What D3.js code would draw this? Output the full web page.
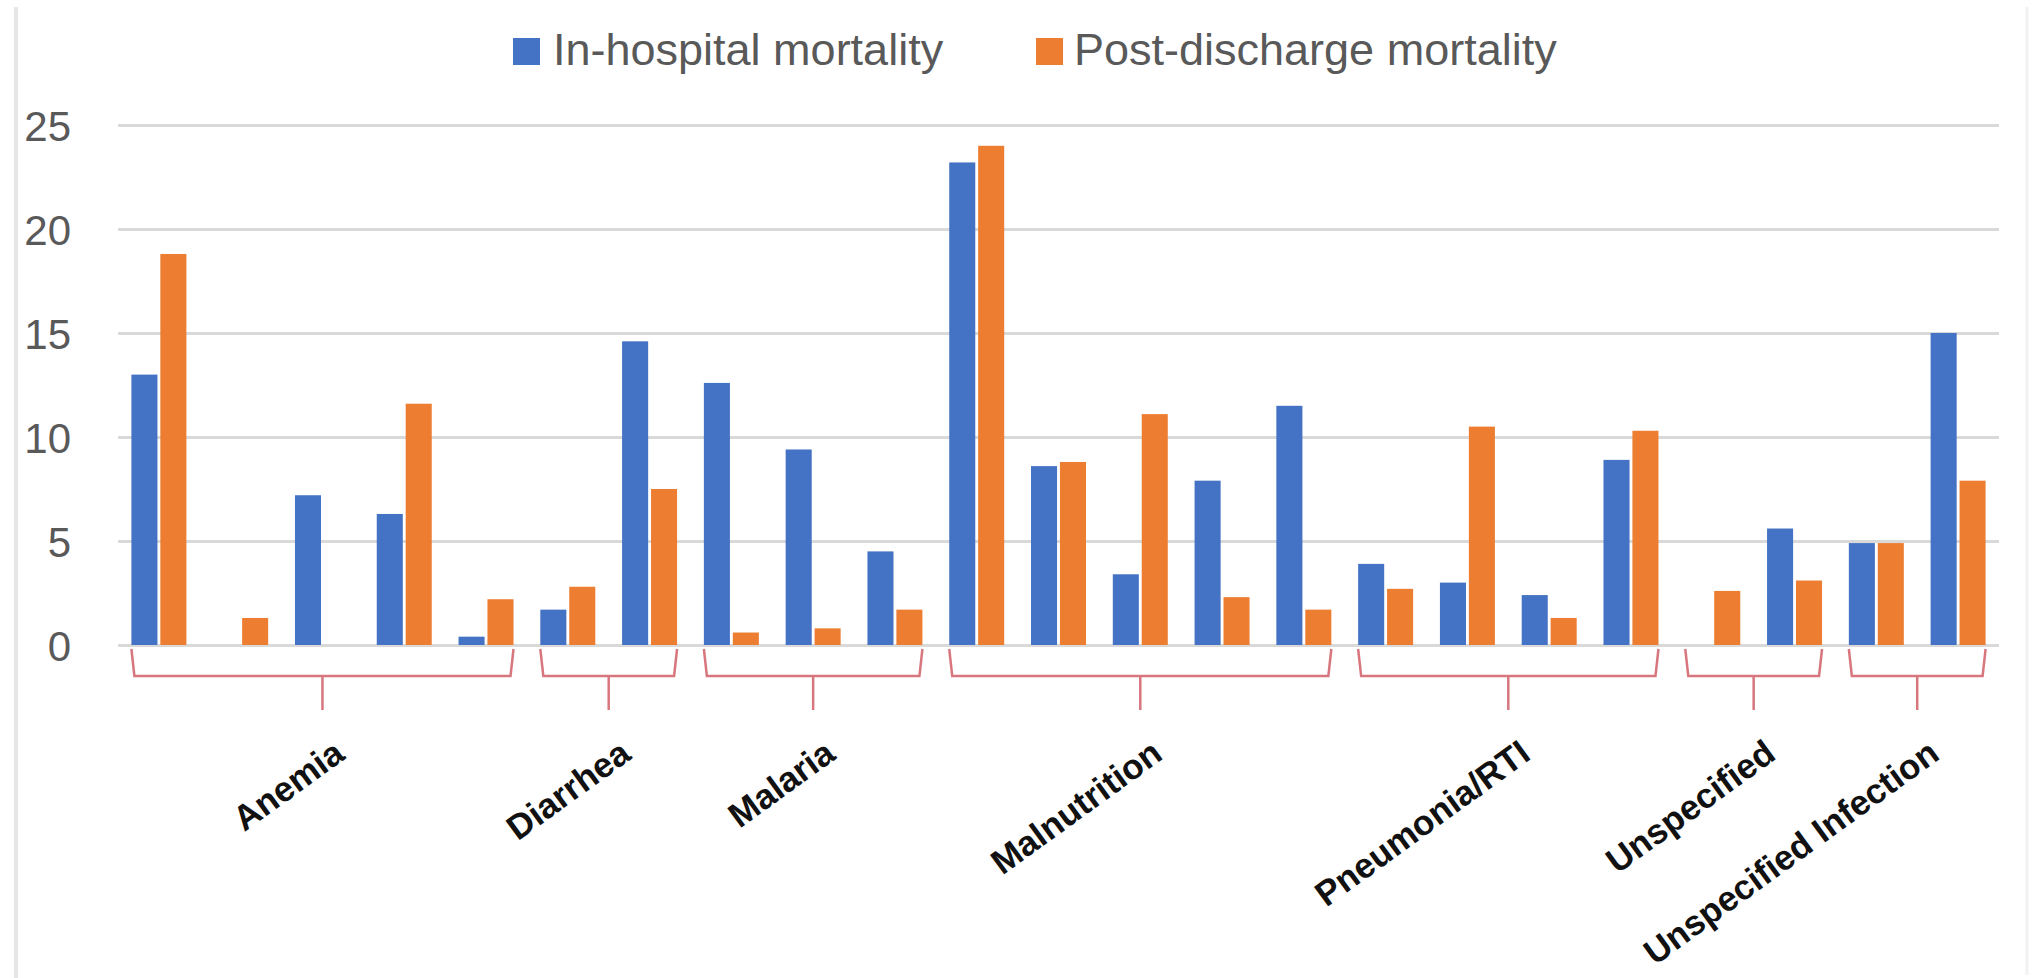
<!DOCTYPE html>
<html>
<head>
<meta charset="utf-8">
<script src="https://cdn.jsdelivr.net/npm/d3@7"></script>
<style>
  html, body { margin: 0; padding: 0; background: #fff; }
  svg { display: block; }
</style>
</head>
<body>
<svg id="chart" width="2033" height="978"></svg>
<script>
// Cause-of-death groups and how many sub-categories (bar pairs) each one holds
const groups = ["Anemia", "Diarrhea", "Malaria", "Malnutrition", "Pneumonia/RTI", "Unspecified", "Unspecified Infection"];
const groupSizes = [5, 2, 3, 5, 4, 2, 2];

// Series names and values (%), one value per sub-category, left to right
const seriesNames = ["In-hospital mortality", "Post-discharge mortality"];
const inHospital    = [13.0, 0, 7.2, 6.3, 0.4, 1.7, 14.6, 12.6, 9.4, 4.5, 23.2, 8.6, 3.4, 7.9, 11.5, 3.9, 3.0, 2.4, 8.9, 0, 5.6, 4.9, 15.0];
const postDischarge = [18.8, 1.3, 0, 11.6, 2.2, 2.8, 7.5, 0.6, 0.8, 1.7, 24.0, 8.8, 11.1, 2.3, 1.7, 2.7, 10.5, 1.3, 10.3, 2.6, 3.1, 4.9, 7.9];

// Y-axis ticks
const yTicks = [0, 5, 10, 15, 20, 25];

const colors = { "In-hospital mortality": "#4472C4", "Post-discharge mortality": "#ED7D31" };

// ---- build slot table ----
const slots = [];
groups.forEach((g, gi) => {
  for (let k = 0; k < groupSizes[gi]; k++) {
    const i = slots.length;
    slots.push({ id: g + "#" + (k + 1), group: g, values: [inHospital[i], postDischarge[i]] });
  }
});

const svg = d3.select("#chart");
const plot = { left: 118, right: 1999, top: 125, bottom: 645 };

const x = d3.scaleBand().domain(slots.map(d => d.id)).range([plot.left, plot.right]).padding(0);
const x1 = d3.scaleBand().domain(seriesNames).range([13.4, x.bandwidth() - 13.4]).paddingInner(0.1);
const y = d3.scaleLinear().domain([0, 25]).range([plot.bottom, plot.top]);

// chart-area border
svg.append("line").attr("x1", 16).attr("x2", 16).attr("y1", 7).attr("y2", 978)
  .attr("stroke", "#E6E6E6").attr("stroke-width", 4);
svg.append("line").attr("x1", 2027).attr("x2", 2027).attr("y1", 7).attr("y2", 975)
  .attr("stroke", "#F2F2F2").attr("stroke-width", 3);

// gridlines + y labels
const yAxis = d3.axisLeft(y).tickValues(yTicks).tickSize(-(plot.right - plot.left)).tickPadding(47);
const gy = svg.append("g").attr("transform", `translate(${plot.left},0)`).call(yAxis);
gy.select(".domain").remove();
gy.selectAll(".tick line").attr("stroke", "#D9D9D9").attr("stroke-width", 3);
gy.selectAll(".tick text")
  .attr("fill", "#595959")
  .attr("font-family", "'Liberation Sans', Arial, sans-serif")
  .attr("font-size", 42)
  .attr("dy", "0.36em");

// bars
const slotG = svg.append("g").selectAll("g").data(slots).join("g")
  .attr("transform", d => `translate(${x(d.id)},0)`);
slotG.selectAll("rect")
  .data(d => d.values.map((v, i) => ({ key: seriesNames[i], value: v })))
  .join("rect")
  .attr("x", d => x1(d.key))
  .attr("width", x1.bandwidth())
  .attr("y", d => y(d.value))
  .attr("height", d => y(0) - y(d.value))
  .attr("fill", d => colors[d.key]);

// group brackets under the axis
const groupInfo = groups.map(g => {
  const members = slots.filter(s => s.group === g);
  const L = x(members[0].id) + x1(seriesNames[0]);
  const R = x(members[members.length - 1].id) + x1(seriesNames[1]) + x1.bandwidth();
  return { name: g, L, R, mid: (L + R) / 2 };
});
const bracketColor = "#D8767E";
const br = svg.append("g").attr("fill", "none").attr("stroke", bracketColor).attr("stroke-width", 2.5);
br.selectAll("path.b").data(groupInfo).join("path").attr("class", "b")
  .attr("d", d => `M${d.L},${plot.bottom + 4} L${d.L + 3},676 L${d.R - 3},676 L${d.R},${plot.bottom + 4}`);
br.selectAll("path.t").data(groupInfo).join("path").attr("class", "t")
  .attr("d", d => `M${d.mid},676 L${d.mid},710`);

// rotated group labels
svg.append("g").selectAll("text").data(groupInfo).join("text")
  .attr("transform", d => `translate(${d.mid + 24},758) rotate(-36)`)
  .attr("text-anchor", "end")
  .attr("font-family", "'Liberation Sans', Arial, sans-serif")
  .attr("font-weight", "bold")
  .attr("font-size", 35)
  .attr("fill", "#111")
  .text(d => d.name);

// legend
const legendItems = [
  { name: seriesNames[0], sx: 513, tx: 553 },
  { name: seriesNames[1], sx: 1036, tx: 1074 }
];
const lg = svg.append("g");
lg.selectAll("rect").data(legendItems).join("rect")
  .attr("x", d => d.sx).attr("y", 38).attr("width", 27).attr("height", 27)
  .attr("fill", d => colors[d.name]);
lg.selectAll("text").data(legendItems).join("text")
  .attr("x", d => d.tx).attr("y", 65)
  .attr("font-family", "'Liberation Sans', Arial, sans-serif")
  .attr("font-size", 45)
  .attr("fill", "#595959")
  .text(d => d.name);
</script>
</body>
</html>
